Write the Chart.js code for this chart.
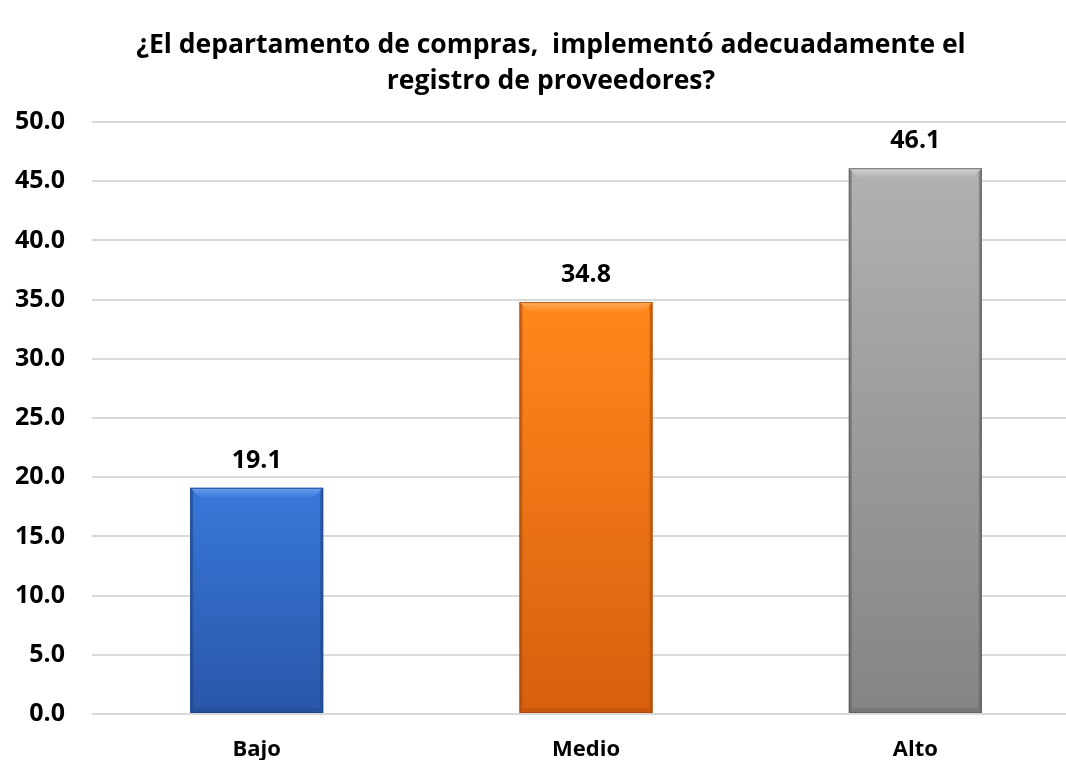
<!DOCTYPE html>
<html>
<head>
<meta charset="utf-8">
<script src="https://cdn.jsdelivr.net/npm/chart.js@4/dist/chart.umd.min.js"></script>
<style>
  html, body { margin: 0; padding: 0; background: #ffffff; overflow: hidden; width: 1066px; height: 760px; }
  #wrap { position: relative; width: 1066px; height: 760px; overflow: hidden; }
  #c { position: absolute; left: 0; top: 0; }
</style>
</head>
<body>
<div id="wrap"><canvas id="c" width="1080" height="760"></canvas></div>
<script>
const titleLines = ["¿El departamento de compras,  implementó adecuadamente el", "registro de proveedores?"];
const categories = ["Bajo", "Medio", "Alto"];
const values = [19.1, 34.8, 46.1];
const yMin = 0, yMax = 50, yStep = 5;

const palette = [
  { top: "#3878da", bottom: "#2956a8", hi: "#6a9ff0", dark: "#1f4585" },
  { top: "#ff881c", bottom: "#d75f0e", hi: "#ffab5c", dark: "#a9490a" },
  { top: "#b1b1b1", bottom: "#848484", hi: "#d2d2d2", dark: "#5e5e5e" }
];
const FONT = "'Open Sans', 'Liberation Sans', sans-serif";

function barGradient(ctx) {
  const chart = ctx.chart;
  const p = palette[ctx.dataIndex];
  if (!chart.chartArea || !chart.scales.y) return p.top;
  const ys = chart.scales.y;
  const top = ys.getPixelForValue(ctx.raw);
  const bot = ys.getPixelForValue(0);
  const g = chart.ctx.createLinearGradient(0, top, 0, bot);
  g.addColorStop(0, p.top);
  g.addColorStop(1, p.bottom);
  return g;
}

const titlePlugin = {
  id: "centeredTitle",
  afterDraw(chart) {
    const ctx = chart.ctx;
    ctx.save();
    ctx.fillStyle = "#000";
    ctx.font = "bold 26.5px " + FONT;
    ctx.textAlign = "center";
    ctx.textBaseline = "middle";
    titleLines.forEach((t, i) => ctx.fillText(t, 551, 45 + i * 36));
    ctx.restore();
  }
};

const bevelPlugin = {
  id: "bevel",
  afterDatasetsDraw(chart) {
    const ctx = chart.ctx;
    const meta = chart.getDatasetMeta(0);
    meta.data.forEach((bar, i) => {
      const p = palette[i];
      const x0 = bar.x - bar.width / 2, x1 = bar.x + bar.width / 2;
      const top = bar.y, bot = bar.base;
      const bv = 10, sv = 3, bb = 5;
      ctx.save();
      let g = ctx.createLinearGradient(0, top, 0, top + bv);
      g.addColorStop(0, p.hi);
      g.addColorStop(1, p.top);
      ctx.fillStyle = g;
      ctx.beginPath();
      ctx.moveTo(x0, top); ctx.lineTo(x1, top);
      ctx.lineTo(x1 - bv, top + bv); ctx.lineTo(x0 + bv, top + bv);
      ctx.closePath(); ctx.fill();
      ctx.globalAlpha = 0.55;
      ctx.fillStyle = p.dark;
      ctx.beginPath();
      ctx.moveTo(x0, top); ctx.lineTo(x0 + sv, top + sv);
      ctx.lineTo(x0 + sv, bot - sv); ctx.lineTo(x0, bot); ctx.closePath(); ctx.fill();
      ctx.beginPath();
      ctx.moveTo(x1, top); ctx.lineTo(x1 - sv, top + sv);
      ctx.lineTo(x1 - sv, bot - sv); ctx.lineTo(x1, bot); ctx.closePath(); ctx.fill();
      ctx.globalAlpha = 0.35;
      ctx.beginPath();
      ctx.moveTo(x0, bot); ctx.lineTo(x1, bot);
      ctx.lineTo(x1 - bb, bot - bb); ctx.lineTo(x0 + bb, bot - bb); ctx.closePath(); ctx.fill();
      ctx.globalAlpha = 0.8;
      ctx.strokeStyle = p.dark;
      ctx.lineWidth = 1;
      ctx.strokeRect(x0 + 0.5, top + 0.5, bar.width - 1, bot - top - 1);
      ctx.restore();

      ctx.save();
      ctx.fillStyle = "#000";
      ctx.font = "bold 25px " + FONT;
      ctx.textAlign = "center";
      ctx.textBaseline = "alphabetic";
      ctx.fillText(values[i].toFixed(1), bar.x, top - 20);
      ctx.restore();
    });
  }
};

new Chart(document.getElementById("c"), {
  type: "bar",
  data: {
    labels: categories,
    datasets: [{
      data: values,
      backgroundColor: barGradient,
      borderWidth: 0,
      barPercentage: 0.404,
      categoryPercentage: 1.0
    }]
  },
  options: {
    responsive: false,
    animation: false,
    devicePixelRatio: 1,
    layout: { padding: { left: 0, right: 0, top: 122, bottom: 0 } },
    plugins: {
      legend: { display: false },
      tooltip: { enabled: false },
      title: { display: false }
    },
    scales: {
      x: {
        grid: { display: false, drawTicks: false },
        border: { display: false },
        ticks: {
          color: "#000",
          font: { family: FONT, size: 22, weight: "bold" },
          padding: 23
        },
        afterFit(scale) { scale.height = 46; }
      },
      y: {
        min: yMin, max: yMax,
        grid: { color: "#d9d9d9", lineWidth: 2, drawTicks: false },
        border: { display: false },
        ticks: {
          stepSize: yStep,
          color: "#000",
          font: { family: FONT, size: 25, weight: "bold" },
          padding: 27,
          callback: (v) => Number(v).toFixed(1)
        },
        afterFit(scale) { scale.width = 92; }
      }
    }
  },
  plugins: [bevelPlugin, titlePlugin]
});
</script>
</body>
</html>
